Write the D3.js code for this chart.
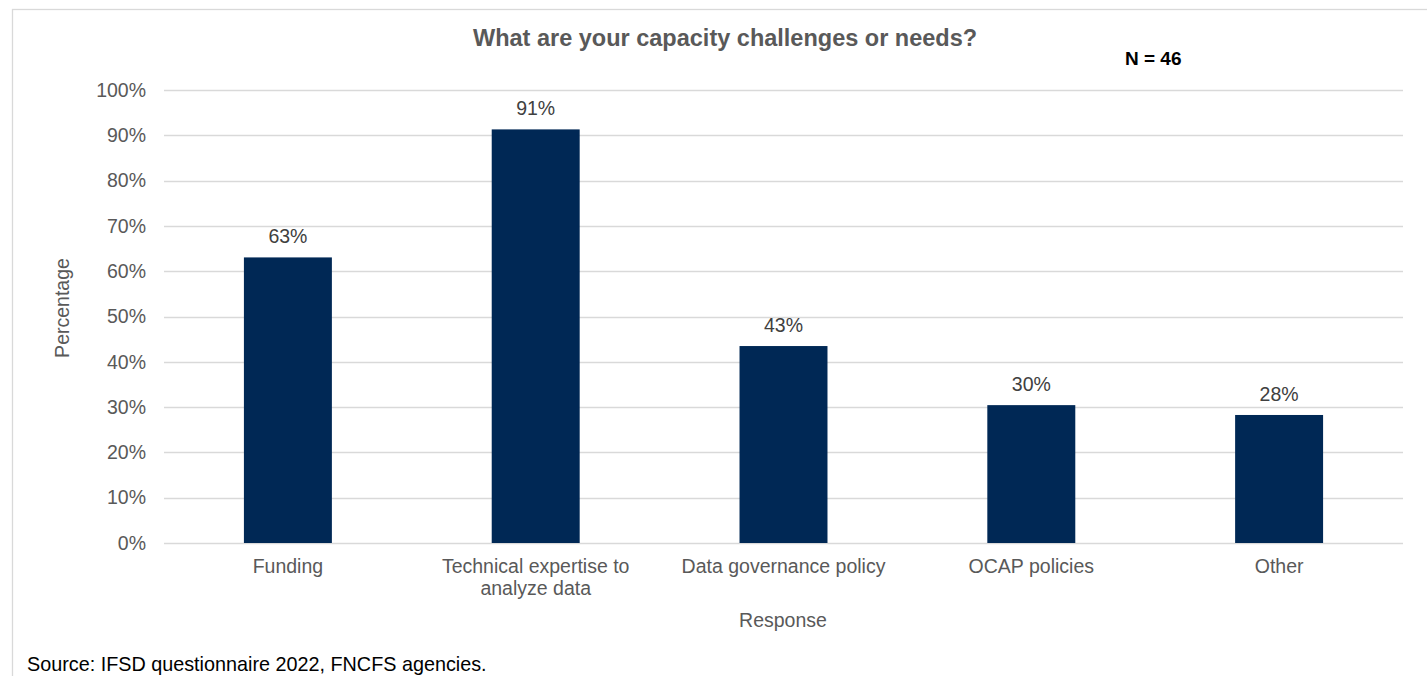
<!DOCTYPE html>
<html><head><meta charset="utf-8">
<script src="https://cdn.jsdelivr.net/npm/d3@7"></script>
<style>
html,body{margin:0;padding:0;background:#fff;}
svg{display:block;font-family:"Liberation Sans",Arial,sans-serif;}
</style></head>
<body><svg id="c" width="1427" height="676"></svg>
<script>
const categories = ["Funding", "Technical expertise to|analyze data", "Data governance policy", "OCAP policies", "Other"];
const values = [29/46, 42/46, 20/46, 14/46, 13/46];
const valueLabels = ["63%", "91%", "43%", "30%", "28%"];
const yTicks = [0, 0.1, 0.2, 0.3, 0.4, 0.5, 0.6, 0.7, 0.8, 0.9, 1.0];
const title = "What are your capacity challenges or needs?";
const nLabel = "N = 46";
const yTitle = "Percentage";
const xTitle = "Response";
const source = "Source: IFSD questionnaire 2022, FNCFS agencies.";

const svg = d3.select("#c");
const grey = "#595959";
const fs = 19.5;
// outer border
svg.append("rect").attr("x", 12.5).attr("y", 9.5).attr("width", 1430).attr("height", 700)
  .attr("fill", "none").attr("stroke", "#d9d9d9").attr("stroke-width", 1.3);

const L = 164, R = 1403, T = 90, B = 543;
const x = d3.scaleBand().domain(categories).range([L, R]).paddingInner(0.645).paddingOuter(0.3225);
const y = d3.scaleLinear().domain([0, 1]).range([B, T]);

// gridlines
svg.append("g").selectAll("line").data(yTicks).join("line")
  .attr("x1", L).attr("x2", R)
  .attr("y1", d => Math.round(y(d)) + 0.5).attr("y2", d => Math.round(y(d)) + 0.5)
  .attr("stroke", "#d9d9d9").attr("stroke-width", 1.3);

// y axis labels
const yAxis = d3.axisLeft(y).tickValues(yTicks).tickFormat(d3.format(".0%")).tickSize(0).tickPadding(18);
const gy = svg.append("g").attr("transform", `translate(${L},0)`).call(yAxis);
gy.select(".domain").remove();
gy.selectAll("text").attr("fill", grey).attr("font-size", fs).attr("font-family", "Liberation Sans, Arial, sans-serif");

// bars
svg.append("g").selectAll("rect").data(values).join("rect")
  .attr("x", (d, i) => x(categories[i])).attr("width", x.bandwidth())
  .attr("y", d => y(d)).attr("height", d => y(0) - y(d))
  .attr("fill", "#002855");

// data labels
svg.append("g").selectAll("text").data(values).join("text")
  .attr("x", (d, i) => x(categories[i]) + x.bandwidth() / 2)
  .attr("y", d => y(d) - 14)
  .attr("text-anchor", "middle").attr("fill", "#404040").attr("font-size", fs)
  .text((d, i) => valueLabels[i]);

// x axis labels
const xAxis = d3.axisBottom(x).tickSize(0).tickPadding(0).tickFormat(() => "");
const gx = svg.append("g").attr("transform", `translate(0,${B})`).call(xAxis);
gx.select(".domain").remove();
gx.selectAll(".tick").each(function(d) {
  const t = d3.select(this).append("text").attr("text-anchor", "middle").attr("fill", grey).attr("font-size", fs);
  d.split("|").forEach((line, k) => {
    t.append("tspan").attr("x", 0).attr("y", 30 + k * 22).text(line);
  });
});

// axis titles
svg.append("text").attr("transform", `translate(69,308) rotate(-90)`).attr("text-anchor", "middle")
  .attr("fill", grey).attr("font-size", fs).text(yTitle);
svg.append("text").attr("x", 783).attr("y", 627).attr("text-anchor", "middle")
  .attr("fill", grey).attr("font-size", fs).text(xTitle);

// title
svg.append("text").attr("x", 473).attr("y", 46).attr("text-anchor", "start")
  .attr("fill", grey).attr("font-size", 23.5).attr("font-weight", "bold").text(title);
svg.append("text").attr("x", 1125).attr("y", 65).attr("text-anchor", "start")
  .attr("fill", "#000").attr("font-size", 19).attr("font-weight", "bold").text(nLabel);

// source
svg.append("text").attr("x", 27).attr("y", 671).attr("fill", "#000").attr("font-size", 19.8).text(source);
</script></body></html>
